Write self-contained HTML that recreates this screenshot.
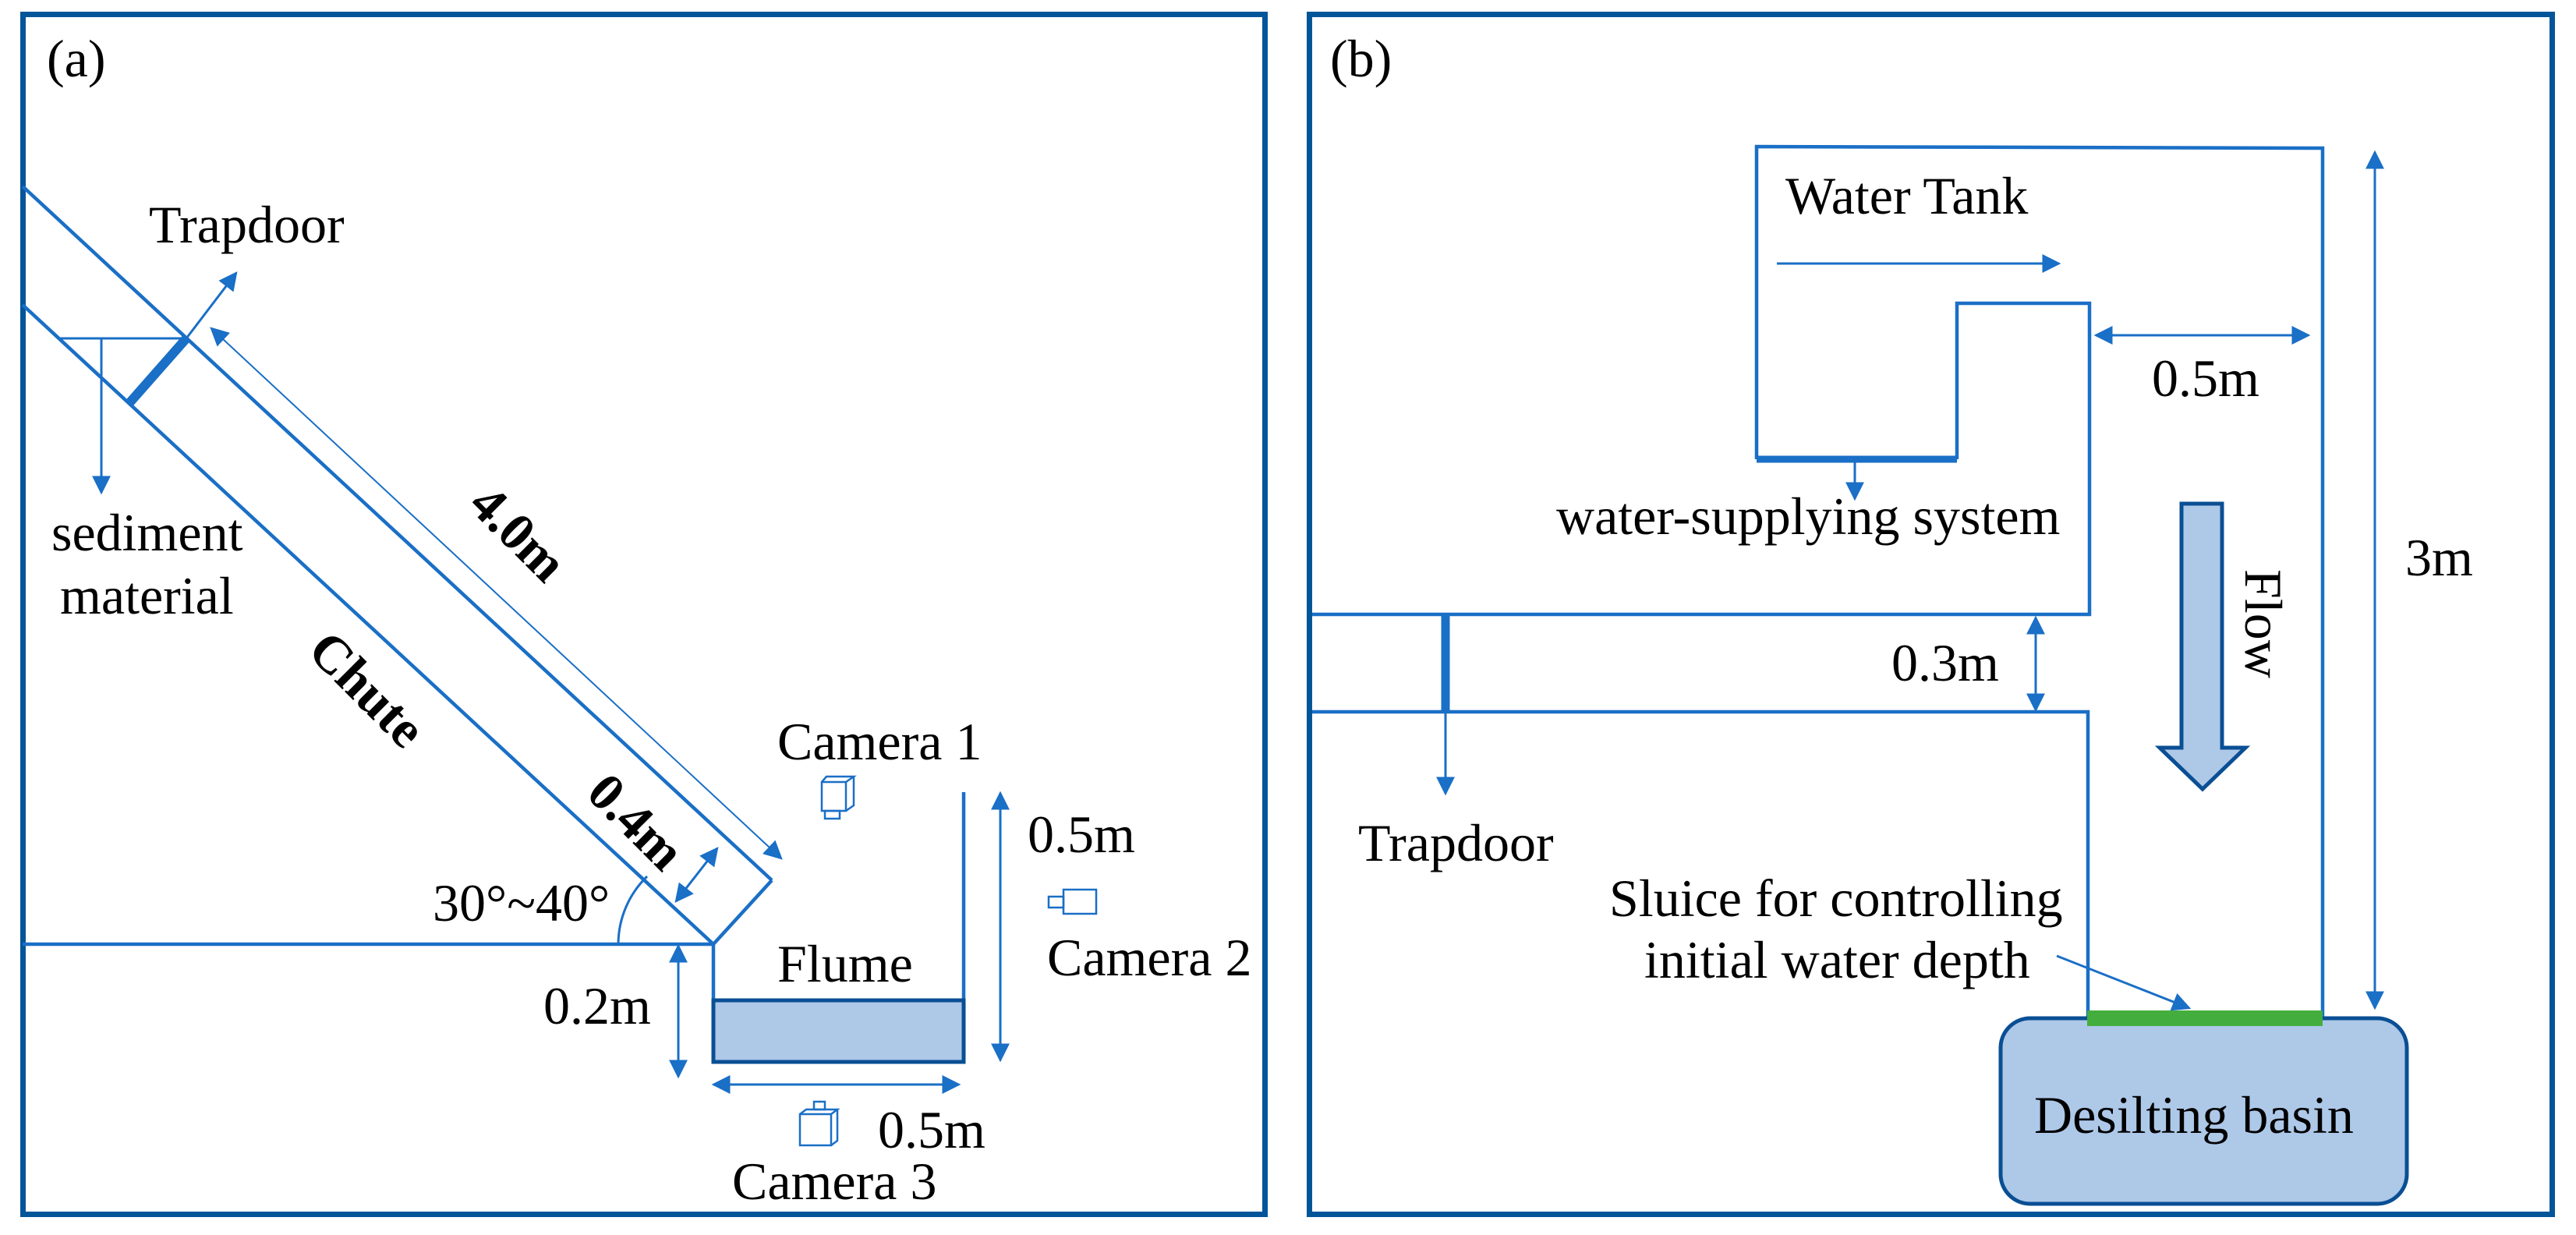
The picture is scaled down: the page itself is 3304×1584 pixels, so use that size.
<!DOCTYPE html>
<html><head><meta charset="utf-8"><style>
html,body{margin:0;padding:0;background:#fff}
svg{display:block}
text{font-family:"Liberation Serif",serif;font-size:68px;fill:#000}
</style></head><body>
<svg width="3304" height="1584" viewBox="0 0 3304 1584" xmlns="http://www.w3.org/2000/svg">
<defs>
<marker id="ah" viewBox="0 0 10 10" refX="9" refY="5" markerWidth="7" markerHeight="7" orient="auto-start-reverse" markerUnits="userSpaceOnUse">
<path d="M0,0 L10,5 L0,10 z" fill="#1a6fc6"/>
</marker>
<marker id="ab" viewBox="0 0 10 10" refX="9" refY="5" markerWidth="24" markerHeight="24" orient="auto-start-reverse" markerUnits="userSpaceOnUse">
<path d="M0,0 L10,5 L0,10 z" fill="#1a6fc6"/>
</marker>
</defs>
<!-- frames -->
<rect x="29.5" y="18.5" width="1593" height="1539" fill="none" stroke="#03559a" stroke-width="7"/>
<rect x="1679.5" y="18.5" width="1594" height="1539" fill="none" stroke="#03559a" stroke-width="7"/>

<g stroke="#1a6fc6" fill="none" stroke-width="4.5">
<!-- panel a chute -->
<line x1="29" y1="239" x2="990" y2="1129"/>
<line x1="29" y1="391" x2="915" y2="1211"/>
<line x1="990" y1="1129" x2="915" y2="1211"/>
<line x1="29" y1="1211" x2="915" y2="1211"/>
<line x1="915" y1="1211" x2="915" y2="1283"/>
<line x1="1236" y1="1016" x2="1236" y2="1283"/>
<line x1="77" y1="434" x2="239" y2="434" stroke-width="3"/>
<line x1="165" y1="518" x2="239" y2="434" stroke-width="12"/>
<path d="M793,1211 A122,122 0 0 1 830,1124" stroke-width="3"/>
</g>
<rect x="915" y="1283" width="321" height="79" fill="#aec8e8" stroke="#0a4f94" stroke-width="5"/>

<g stroke="#1a6fc6" fill="none" stroke-width="3">
<line x1="130" y1="434" x2="130" y2="632" marker-end="url(#ab)"/>
<line x1="239" y1="434" x2="303" y2="350" marker-end="url(#ab)"/>
<line x1="271" y1="421" x2="1002" y2="1101" marker-start="url(#ab)" marker-end="url(#ab)" stroke-width="2"/>
<line x1="867" y1="1156" x2="920" y2="1088" marker-start="url(#ab)" marker-end="url(#ab)"/>
<line x1="870" y1="1213" x2="870" y2="1381" marker-start="url(#ab)" marker-end="url(#ab)"/>
<line x1="1283" y1="1017" x2="1283" y2="1360" marker-start="url(#ab)" marker-end="url(#ab)"/>
<line x1="915" y1="1391" x2="1230" y2="1391" marker-start="url(#ab)" marker-end="url(#ab)"/>
</g>
<!-- cameras -->
<g stroke="#1a6fc6" fill="none" stroke-width="2.5">
<rect x="1054" y="1003" width="31" height="37"/>
<path d="M1054,1003 L1060,996 L1095,996 L1085,1003 M1095,996 L1095,1033 L1085,1040"/>
<rect x="1058" y="1040" width="19" height="10"/>
<rect x="1364" y="1141" width="42" height="31"/>
<rect x="1345" y="1150" width="19" height="14"/>
<rect x="1026" y="1429" width="40" height="40"/>
<path d="M1026,1429 L1034,1423 L1074,1423 L1066,1429 M1074,1423 L1074,1463 L1066,1469"/>
<rect x="1044" y="1413" width="14" height="10"/>
</g>

<!-- panel a text -->
<text x="60" y="98" font-size="62">(a)</text>
<text x="191" y="311">Trapdoor</text>
<text x="66" y="706">sediment</text>
<text x="77" y="787">material</text>
<text x="0" y="0" text-anchor="middle" font-weight="bold" font-size="66" transform="translate(649,700) rotate(45)">4.0m</text>
<text x="0" y="0" text-anchor="middle" font-weight="bold" font-size="66" transform="translate(455,900) rotate(45)">Chute</text>
<text x="0" y="0" text-anchor="middle" font-weight="bold" font-size="66" transform="translate(800,1070) rotate(45)">0.4m</text>
<text x="555" y="1181">30°~40°</text>
<text x="997" y="974">Camera 1</text>
<text x="1318" y="1093">0.5m</text>
<text x="1343" y="1251">Camera 2</text>
<text x="997" y="1259">Flume</text>
<text x="697" y="1313">0.2m</text>
<text x="1126" y="1472">0.5m</text>
<text x="939" y="1538">Camera 3</text>

<!-- panel b -->
<g stroke="#1a6fc6" fill="none" stroke-width="4.5">
<polyline points="2253,589 2253,188 2979,190 2979,1306"/>
<polyline points="2510,589 2510,389 2680,389 2680,788 1683,788"/>
<polyline points="1683,913 2678,913 2678,1306"/>
<line x1="2253" y1="589" x2="2510" y2="589" stroke-width="9"/>
<line x1="1854" y1="788" x2="1854" y2="913" stroke-width="11"/>
</g>
<rect x="2566" y="1306" width="521" height="238" rx="38" fill="#aec8e8" stroke="#0a4f94" stroke-width="5"/>
<rect x="2677" y="1296" width="302" height="20" fill="#43ae3d"/>
<polygon points="2798,646 2850,646 2850,959 2880,959 2825,1012 2770,959 2798,959" fill="#aec8e8" stroke="#0a4f94" stroke-width="5"/>
<g stroke="#1a6fc6" fill="none" stroke-width="3">
<line x1="2279" y1="338" x2="2641" y2="338" marker-end="url(#ab)"/>
<line x1="2379" y1="589" x2="2379" y2="640" marker-end="url(#ab)"/>
<line x1="2688" y1="430" x2="2961" y2="430" marker-start="url(#ab)" marker-end="url(#ab)"/>
<line x1="3046" y1="195" x2="3046" y2="1293" marker-start="url(#ab)" marker-end="url(#ab)"/>
<line x1="2611" y1="792" x2="2611" y2="911" marker-start="url(#ab)" marker-end="url(#ab)"/>
<line x1="1854" y1="913" x2="1854" y2="1018" marker-end="url(#ab)"/>
<line x1="2638" y1="1226" x2="2808" y2="1293" marker-end="url(#ab)"/>
</g>
<text x="1706" y="98" font-size="62">(b)</text>
<text x="2290" y="274">Water Tank</text>
<text x="1996" y="685">water-supplying system</text>
<text x="2760" y="508">0.5m</text>
<text x="3085" y="738">3m</text>
<text x="0" y="0" transform="translate(2880,730) rotate(90)">Flow</text>
<text x="2426" y="873">0.3m</text>
<text x="1742" y="1104">Trapdoor</text>
<text x="2064" y="1175">Sluice for controlling</text>
<text x="2109" y="1254">initial water depth</text>
<text x="2609" y="1453">Desilting basin</text>
</svg>
</body></html>
